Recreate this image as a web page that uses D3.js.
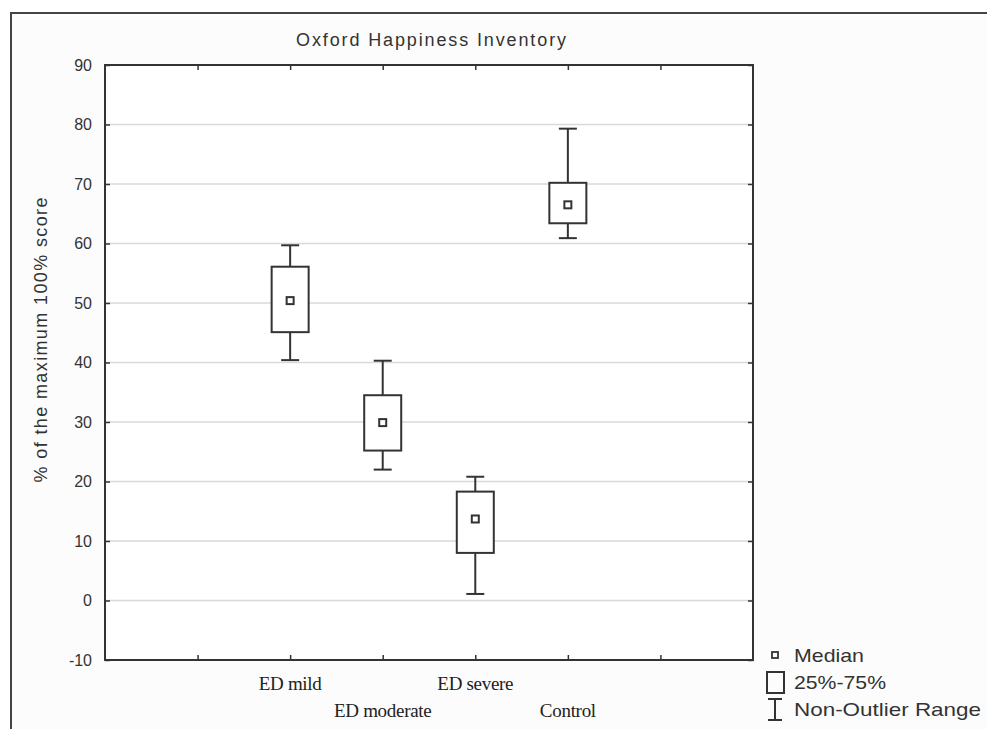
<!DOCTYPE html>
<html>
<head>
<meta charset="utf-8">
<script src="https://cdn.jsdelivr.net/npm/d3@7"></script>
<style>
  body { margin: 0; background: #fff; }
  svg { display: block; }
</style>
</head>
<body>
<div class="chart"></div>
<script>
// box plot data
var categories = ['ED mild', 'ED moderate', 'ED severe', 'Control'];
var medians   = [50.4, 29.9, 13.7, 66.5];
var q1        = [45.1, 25.2, 8.0, 63.4];
var q3        = [56.1, 34.5, 18.3, 70.2];
var whiskLow  = [40.4, 22.0, 1.1, 60.9];
var whiskHigh = [59.7, 40.3, 20.8, 79.3];
var yTicks    = [-10, 0, 10, 20, 30, 40, 50, 60, 70, 80, 90];
var legendLabels = ['Median', '25%-75%', 'Non-Outlier Range'];

(function() {
  var width = 987, height = 729;
  var margin = {left: 105, right: 753, top: 65, bottom: 660};
  var ink = '#333';

  var svg = d3.select('.chart')
    .append('svg')
    .attr('width', width)
    .attr('height', height);

  // outer frame of the figure
  svg.append('rect')
    .attr('x', 11).attr('y', 13)
    .attr('width', width + 20).attr('height', height + 20)
    .style('fill', '#fcfcfc')
    .style('stroke', '#444')
    .style('stroke-width', 2);

  // empty slots at each end so the ticks fall like the original
  var slots = ['_l'].concat(categories, ['_r']);
  var x = d3.scalePoint().domain(slots)
    .range([margin.left, margin.right]).padding(1);
  var y = d3.scaleLinear().domain([-10, 90])
    .range([margin.bottom, margin.top]);

  svg.append('rect')
    .attr('x', margin.left).attr('y', margin.top)
    .attr('width', margin.right - margin.left)
    .attr('height', margin.bottom - margin.top)
    .style('fill', '#fff');

  // gridlines
  svg.selectAll('.grid').data(yTicks.slice(1, -1))
    .enter().append('line')
    .attr('class', 'grid')
    .attr('x1', margin.left).attr('x2', margin.right)
    .attr('y1', function(d) { return y(d); })
    .attr('y2', function(d) { return y(d); })
    .style('stroke', '#d9d9d9')
    .style('stroke-width', 1.5);

  // axes, ticks pointing inward
  var axisLeft = d3.axisRight(y).tickValues(yTicks).tickSize(5).tickFormat('');
  var axisRight = d3.axisLeft(y).tickValues(yTicks).tickSize(5).tickFormat('');
  var axisTop = d3.axisBottom(x).tickSize(5).tickFormat('');
  var axisBottom = d3.axisTop(x).tickSize(5).tickFormat('');

  var axes = [
    svg.append('g').attr('transform', 'translate(' + margin.left + ',0)').call(axisLeft),
    svg.append('g').attr('transform', 'translate(' + margin.right + ',0)').call(axisRight),
    svg.append('g').attr('transform', 'translate(0,' + margin.top + ')').call(axisTop),
    svg.append('g').attr('transform', 'translate(0,' + margin.bottom + ')').call(axisBottom)
  ];
  axes.forEach(function(g) {
    g.select('.domain').remove();
    g.selectAll('line').style('stroke', ink).style('stroke-width', 1.5);
  });

  svg.append('rect')
    .attr('x', margin.left).attr('y', margin.top)
    .attr('width', margin.right - margin.left)
    .attr('height', margin.bottom - margin.top)
    .style('fill', 'none')
    .style('stroke', ink)
    .style('stroke-width', 2);

  // y tick labels
  svg.selectAll('.ylab').data(yTicks)
    .enter().append('text')
    .attr('class', 'ylab')
    .attr('x', 92)
    .attr('y', function(d) { return y(d); })
    .attr('dy', '0.35em')
    .attr('text-anchor', 'end')
    .style('font-family', 'Liberation Sans, Arial, sans-serif')
    .style('font-size', '16px')
    .style('fill', '#333')
    .text(function(d) { return d; });

  // category labels, staggered in two rows
  svg.selectAll('.xlab').data(categories)
    .enter().append('text')
    .attr('class', 'xlab')
    .attr('x', function(d) { return x(d); })
    .attr('y', function(d, i) { return i % 2 ? 717 : 690; })
    .attr('text-anchor', 'middle')
    .style('font-family', 'Liberation Serif, Times New Roman, serif')
    .style('font-size', '19px')
    .style('letter-spacing', '-0.3px')
    .style('fill', '#222')
    .text(function(d) { return d; });

  // title + y label
  svg.append('text')
    .attr('x', (margin.left + margin.right) / 2 + 2)
    .attr('y', 46)
    .attr('text-anchor', 'middle')
    .attr('textLength', 270)
    .style('font-family', 'Liberation Sans, Arial, sans-serif')
    .style('font-size', '18px')
    .style('fill', '#333')
    .text('Oxford Happiness Inventory');

  svg.append('text')
    .attr('transform', 'translate(47,340) rotate(-90)')
    .attr('text-anchor', 'middle')
    .attr('textLength', 285)
    .style('font-family', 'Liberation Sans, Arial, sans-serif')
    .style('font-size', '18px')
    .style('fill', '#333')
    .text('% of the maximum 100% score');

  // boxes
  var boxW = 37, capW = 18, medS = 7;
  var rows = categories.map(function(c, i) {
    return {cat: c, med: medians[i], lo: q1[i], hi: q3[i], wl: whiskLow[i], wh: whiskHigh[i]};
  });

  var boxes = svg.selectAll('.box').data(rows)
    .enter().append('g')
    .attr('class', 'box')
    .style('stroke', ink)
    .style('stroke-width', 2)
    .style('fill', 'none');

  boxes.append('line')
    .attr('x1', function(d) { return x(d.cat); })
    .attr('x2', function(d) { return x(d.cat); })
    .attr('y1', function(d) { return y(d.wh); })
    .attr('y2', function(d) { return y(d.hi); });
  boxes.append('line')
    .attr('x1', function(d) { return x(d.cat); })
    .attr('x2', function(d) { return x(d.cat); })
    .attr('y1', function(d) { return y(d.lo); })
    .attr('y2', function(d) { return y(d.wl); });
  boxes.append('line')
    .attr('x1', function(d) { return x(d.cat) - capW / 2; })
    .attr('x2', function(d) { return x(d.cat) + capW / 2; })
    .attr('y1', function(d) { return y(d.wh); })
    .attr('y2', function(d) { return y(d.wh); });
  boxes.append('line')
    .attr('x1', function(d) { return x(d.cat) - capW / 2; })
    .attr('x2', function(d) { return x(d.cat) + capW / 2; })
    .attr('y1', function(d) { return y(d.wl); })
    .attr('y2', function(d) { return y(d.wl); });
  boxes.append('rect')
    .attr('x', function(d) { return x(d.cat) - boxW / 2; })
    .attr('y', function(d) { return y(d.hi); })
    .attr('width', boxW)
    .attr('height', function(d) { return y(d.lo) - y(d.hi); })
    .style('fill', '#fff');
  boxes.append('rect')
    .attr('x', function(d) { return x(d.cat) - medS / 2; })
    .attr('y', function(d) { return y(d.med) - medS / 2; })
    .attr('width', medS).attr('height', medS);

  // legend
  var lx = 775, ltx = 794;
  var leg = svg.append('g')
    .style('stroke', ink).style('stroke-width', 2).style('fill', 'none');
  leg.append('rect').attr('x', lx - 3).attr('y', 652).attr('width', 6).attr('height', 6)
    .style('stroke-width', 1.8);
  leg.append('rect').attr('x', 767).attr('y', 672).attr('width', 17).attr('height', 21);
  leg.append('line').attr('x1', lx).attr('x2', lx).attr('y1', 699).attr('y2', 720);
  leg.append('line').attr('x1', lx - 7).attr('x2', lx + 7).attr('y1', 699).attr('y2', 699);
  leg.append('line').attr('x1', lx - 7).attr('x2', lx + 7).attr('y1', 720).attr('y2', 720);

  var legLen = [70, 92, 187];
  svg.selectAll('.leglab').data(legendLabels)
    .enter().append('text')
    .attr('class', 'leglab')
    .attr('x', ltx)
    .attr('y', function(d, i) { return 662 + i * 27; })
    .attr('textLength', function(d, i) { return legLen[i]; })
    .attr('lengthAdjust', 'spacingAndGlyphs')
    .style('font-family', 'Liberation Sans, Arial, sans-serif')
    .style('font-size', '19px')
    .style('fill', '#333')
    .text(function(d) { return d; });
}).call(this);
</script>
</body>
</html>
